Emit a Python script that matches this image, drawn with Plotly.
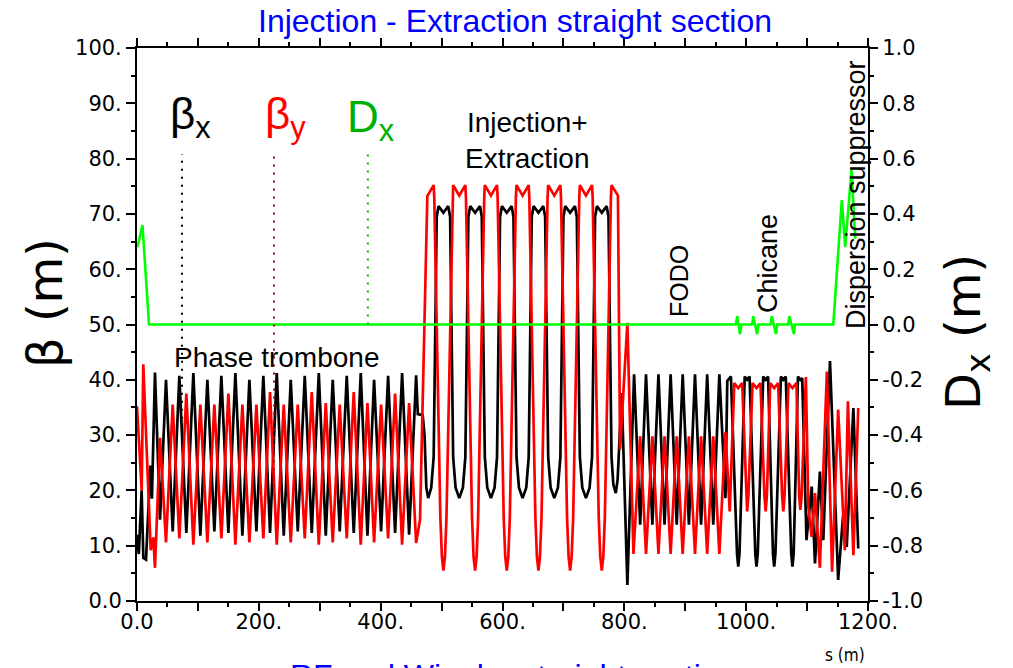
import plotly.graph_objects as go

# ---------------- data ----------------
S_BX = [0, 3, 7.6, 10.4, 14.8, 22, 24.5,
        29.5, 37.8, 47.6, 58.6, 69.5, 81, 92.5, 104, 115.5, 127, 138.5, 150, 161.5, 173, 184.5, 196,
        207.4, 218.4, 229.4, 240.9, 252.4, 263.9, 275.4, 286.9, 298.4, 309.9, 321.3, 332.8, 344.3, 355.8,
        367.3, 378.3, 389.2, 400.7, 412.2, 423.7, 435.2, 446.7, 458.2,
        461, 469, 472, 475, 478, 483, 487,
        492, 495, 503, 511, 514, 519, 523, 529, 535, 539,
        544, 547, 555, 563, 566, 571, 575, 581, 587, 591,
        596, 599, 607, 615, 618, 623, 627, 633, 639, 643,
        648, 651, 659, 667, 670, 675, 679, 685, 691, 695,
        700, 703, 711, 719, 722, 727, 731, 737, 743, 747,
        752, 755, 763, 771, 774, 779, 782, 786, 789,
        795.7, 805,
        816, 826, 835.6, 846, 856, 866, 876, 886, 895.8, 906, 916, 926, 936, 946, 956, 966,
        969, 975, 985, 987, 989, 997.6, 1001.6, 1005.6, 1015, 1017, 1019, 1028, 1032, 1036,
        1044, 1046, 1048, 1057, 1061, 1065, 1074, 1076, 1078, 1085, 1089, 1092,
        1099, 1107.6, 1113, 1121, 1126.6, 1137.6, 1151, 1159, 1165, 1176, 1184]
BX = [12.0, 8.5, 20.0, 7.8, 7.5, 24.5, 18.5,
      41.3, 14.7, 40.0, 12.6, 40.7, 12.3, 41.2, 11.8, 40.0, 12.6, 40.7, 12.3, 41.2, 11.8, 40.0, 12.6,
      40.7, 12.3, 41.2, 11.8, 40.0, 12.6, 40.7, 12.3, 41.2, 11.8, 40.0, 12.6, 40.7, 12.3,
      41.2, 11.8, 40.0, 12.6, 40.7, 12.3, 41.2, 12.0, 40.8,
      33.8, 33.6, 30.0, 20.5, 18.6, 20.5, 26.0,
      69.5, 71.4, 70.2, 71.4, 69.5, 26.0, 20.5, 18.6, 20.5, 26.0,
      69.5, 71.4, 70.2, 71.4, 69.5, 26.0, 20.5, 18.6, 20.5, 26.0,
      69.5, 71.4, 70.2, 71.4, 69.5, 26.0, 20.5, 18.6, 20.5, 26.0,
      69.5, 71.4, 70.2, 71.4, 69.5, 26.0, 20.5, 18.6, 20.5, 26.0,
      69.5, 71.4, 70.2, 71.4, 69.5, 26.0, 20.5, 18.6, 20.5, 26.0,
      69.5, 71.4, 70.2, 71.4, 69.5, 26.0, 21.0, 19.5, 22.0,
      37.6, 2.9,
      41.0, 13.8, 41.0, 13.8, 41.0, 13.8, 41.0, 13.8, 41.0, 13.8, 41.0, 13.8, 41.0, 13.8, 41.0, 18.6,
      39.8, 40.6, 8.5, 6.2, 8.5, 40.6, 40.0, 40.6, 8.5, 6.2, 8.5, 40.6, 40.0, 40.6,
      8.5, 6.2, 8.5, 40.6, 40.0, 40.6, 8.5, 6.2, 8.5, 40.6, 40.0, 40.3,
      11.0, 20.7, 6.8, 23.4, 11.0, 43.4, 3.8, 15.3, 9.8, 34.9, 9.5]

S_BY = [0, 7.7, 10.3, 22.5, 26.8, 29.5, 37.8,
        47.6, 58.6, 69.5, 81, 92.5, 104, 115.5, 127, 138.5, 150, 161.5, 173, 184.5, 196,
        207.4, 218.4, 229.4, 240.9, 252.4, 263.9, 275.4, 286.9, 298.4, 309.9, 321.3, 332.8, 344.3, 355.8,
        367.3, 378.3, 389.2, 400.7, 412.2, 423.7, 435.2, 446.7, 458.2,
        464.6, 476.6, 487, 488,
        498, 500.5, 503, 505.5, 508,
        518, 519, 529, 539, 540, 550, 552.5, 555, 557.5, 560,
        570, 571, 581, 591, 592, 602, 604.5, 607, 609.5, 612,
        622, 623, 633, 643, 644, 654, 656.5, 659, 661.5, 664,
        674, 675, 685, 695, 696, 706, 708.5, 711, 713.5, 716,
        726, 727, 737, 747, 748, 758, 760.5, 763, 765.5, 768,
        778, 779, 789.5,
        793, 805, 815,
        826, 835.6, 846, 856, 866, 876, 886, 895.8, 906, 916, 926, 936, 946, 956, 966, 973,
        980.5, 987, 993.5, 999.6, 1001.6, 1003.6, 1010.5, 1017, 1023.5, 1030, 1032, 1034,
        1039.5, 1046, 1052.5, 1059, 1061, 1063, 1069.5, 1076, 1082.5, 1087, 1089, 1091,
        1098, 1102, 1107.5, 1113, 1121, 1132.5, 1141, 1151, 1162, 1167, 1176, 1184]
BY = [35.2, 20.0, 42.8, 9.2, 11.5, 6.0, 29.5,
      10.6, 35.5, 11.3, 37.5, 10.2, 35.5, 10.6, 35.5, 11.3, 37.5, 10.2, 35.5, 10.6, 35.5,
      11.3, 37.8, 10.2, 35.5, 10.6, 35.5, 11.3, 37.8, 10.2, 35.8, 10.6, 35.5, 11.3, 37.8,
      10.2, 35.8, 10.6, 35.5, 11.3, 37.5, 10.2, 35.8, 10.5,
      14.7, 73.2, 75.2, 73.0,
      15.0, 8.0, 5.5, 8.0, 15.0,
      73.0, 75.2, 73.3, 75.2, 73.0, 15.0, 8.0, 5.5, 8.0, 15.0,
      73.0, 75.2, 73.3, 75.2, 73.0, 15.0, 8.0, 5.5, 8.0, 15.0,
      73.0, 75.2, 73.3, 75.2, 73.0, 15.0, 8.0, 5.5, 8.0, 15.0,
      73.0, 75.2, 73.3, 75.2, 73.0, 15.0, 8.0, 5.5, 8.0, 15.0,
      73.0, 75.2, 73.3, 75.2, 73.0, 15.0, 8.0, 5.5, 8.0, 15.0,
      73.0, 75.2, 73.3,
      27.4, 50.3, 8.5,
      29.8, 8.5, 29.8, 8.5, 29.8, 8.5, 29.8, 8.5, 29.8, 8.5, 29.8, 8.5, 29.8, 8.5, 30.5, 16.2,
      39.4, 38.5, 39.4, 19.0, 16.2, 19.0, 39.4, 38.5, 39.4, 19.0, 16.2, 19.0,
      39.4, 38.5, 39.4, 19.0, 16.2, 19.0, 39.4, 38.5, 39.4, 19.0, 16.5, 19.0,
      40.5, 17.0, 11.6, 19.5, 6.0, 41.5, 5.3, 34.6, 9.2, 36.1, 8.3, 34.9]

S_DX = [0, 3, 9, 19.7, 983, 985.5, 990, 992, 1010, 1011.7, 1018, 1020,
        1040, 1042, 1049, 1051, 1069, 1070.8, 1078.5, 1080, 1143, 1157, 1162.5, 1173, 1179]
DX = [0.28, 0.30, 0.36, 0.0, 0.0, 0.03, -0.035, 0.0, 0.0, 0.03, -0.035, 0.0,
      0.0, 0.03, -0.035, 0.0, 0.0, 0.03, -0.035, 0.0, 0.0, 0.45, 0.28, 0.56, 0.31]

X_TICKS = [0, 100, 200, 300, 400, 500, 600, 700, 800, 900, 1000, 1100, 1200]
X_LABELS = ["0.0", "", "200.", "", "400.", "", "600.", "", "800.", "", "1000.", "", "1200."]
Y_TICKS = [0, 10, 20, 30, 40, 50, 60, 70, 80, 90, 100]
Y_LABELS = ["0.0", "10.", "20.", "30.", "40.", "50.", "60.", "70.", "80.", "90.", "100."]
Y2_TICKS = [-1.0, -0.8, -0.6, -0.4, -0.2, 0.0, 0.2, 0.4, 0.6, 0.8, 1.0]
Y2_LABELS = ["-1.0", "-0.8", "-0.6", "-0.4", "-0.2", "0.0", "0.2", "0.4", "0.6", "0.8", "1.0"]

# legend marker lines (s position, lower beta, upper beta)
MARK_S = [73.9, 224.9, 379.0]
MARK_LO = [28.6, 20.7, 50.0]
MARK_HI = [80.8, 80.8, 80.8]
MARK_COL = ["#000000", "#c00000", "#00c000"]

# ---------------- figure ----------------
W, H = 1013, 668
L, R, T, B = 137, 145, 48, 67
PW, PH = W - L - R, H - T - B


def fx(px):
    return (px - L) / PW


def fy(py):
    return (H - B - py) / PH


fig = go.Figure()
fig.add_trace(go.Scatter(x=S_BX, y=BX, mode="lines", line=dict(color="#000000", width=2.7),
                         showlegend=False, hoverinfo="skip"))
fig.add_trace(go.Scatter(x=S_BY, y=BY, mode="lines", line=dict(color="#ff0000", width=2.7),
                         showlegend=False, hoverinfo="skip"))
fig.add_trace(go.Scatter(x=S_DX, y=DX, mode="lines", line=dict(color="#00ff00", width=2.6),
                         showlegend=False, hoverinfo="skip", yaxis="y2"))

for s, lo, hi, c in zip(MARK_S, MARK_LO, MARK_HI, MARK_COL):
    fig.add_shape(type="line", xref="x", yref="y", x0=s, x1=s, y0=lo, y1=hi,
                  line=dict(color=c, width=2, dash="2px,6px"))

tickfont = dict(family="DejaVu Sans", size=21, color="#000000")
axcommon = dict(showline=True, linewidth=2, linecolor="#000000", ticks="outside",
                tickwidth=1.5, tickcolor="#000000", showgrid=False, zeroline=False,
                tickfont=tickfont, tickmode="array")

fig.update_layout(
    width=W, height=H, autosize=False,
    margin=dict(l=L, r=R, t=T, b=B),
    paper_bgcolor="white", plot_bgcolor="white",
    hovermode=False,
    xaxis=dict(range=[0, 1200], tickvals=X_TICKS, ticktext=X_LABELS, ticklen=8,
               mirror="ticks", ticklabelstandoff=-7,
               minor=dict(tickmode="linear", tick0=0, dtick=50, ticklen=4, ticks="outside",
                          tickwidth=1.5, tickcolor="#000000"),
               **axcommon),
    yaxis=dict(range=[0, 100], tickvals=Y_TICKS, ticktext=Y_LABELS, ticklen=9,
               minor=dict(tickmode="linear", tick0=0, dtick=5, ticklen=4, ticks="outside",
                          tickwidth=1.5, tickcolor="#000000"),
               **axcommon),
    yaxis2=dict(range=[-1, 1], tickvals=Y2_TICKS, ticktext=Y2_LABELS, ticklen=8,
                overlaying="y", side="right",
                minor=dict(tickmode="linear", tick0=0, dtick=0.1, ticklen=4, ticks="outside",
                           tickwidth=1.5, tickcolor="#000000"),
                **axcommon),
)

ann = []
blue = "#0000ff"
ann.append(dict(text="Injection - Extraction straight section", x=fx(515), y=fy(21),
                font=dict(family="Liberation Sans", size=32, color=blue)))
ann.append(dict(text="RF and Wiggler straight section", x=fx(513), y=fy(676),
                font=dict(family="Liberation Sans", size=32, color=blue)))
ann.append(dict(text="s (m)", x=fx(845), y=fy(655),
                font=dict(family="DejaVu Sans Condensed, DejaVu Sans", size=17, color="#000000")))
ann.append(dict(text="β (m)", x=fx(45), y=fy(303), textangle=-90,
                font=dict(family="DejaVu Sans", size=48, color="#000000")))
ann.append(dict(text="D<sub>x</sub> (m)", x=fx(966), y=fy(332), textangle=-90,
                font=dict(family="DejaVu Sans", size=48, color="#000000")))
ann.append(dict(text="β<sub>x</sub>", x=fx(190), y=fy(117),
                font=dict(family="Liberation Sans", size=44, color="#000000")))
ann.append(dict(text="β<sub>y</sub>", x=fx(285), y=fy(117),
                font=dict(family="Liberation Sans", size=44, color="#ff0000")))
ann.append(dict(text="D<sub>x</sub>", x=fx(371), y=fy(120),
                font=dict(family="Liberation Sans", size=44, color="#00b000")))
ann.append(dict(text="Injection+<br>Extraction", x=fx(527), y=fy(141),
                font=dict(family="Liberation Sans", size=28, color="#000000")))
ann.append(dict(text="Phase trombone", x=fx(276), y=fy(358),
                font=dict(family="Liberation Sans", size=28, color="#000000")))
ann.append(dict(text="FODO", x=fx(679), y=fy(281), textangle=-90,
                font=dict(family="Liberation Sans", size=25, color="#000000")))
ann.append(dict(text="Chicane", x=fx(768), y=fy(264), textangle=-90,
                font=dict(family="Liberation Sans", size=27, color="#000000")))
ann.append(dict(text="Dispersion suppressor", x=fx(856), y=fy(195), textangle=-90,
                font=dict(family="Liberation Sans", size=27, color="#000000")))

for a in ann:
    a.update(xref="paper", yref="paper", showarrow=False, xanchor="center", yanchor="middle")
fig.update_layout(annotations=ann)

fig.write_html("out.html")
